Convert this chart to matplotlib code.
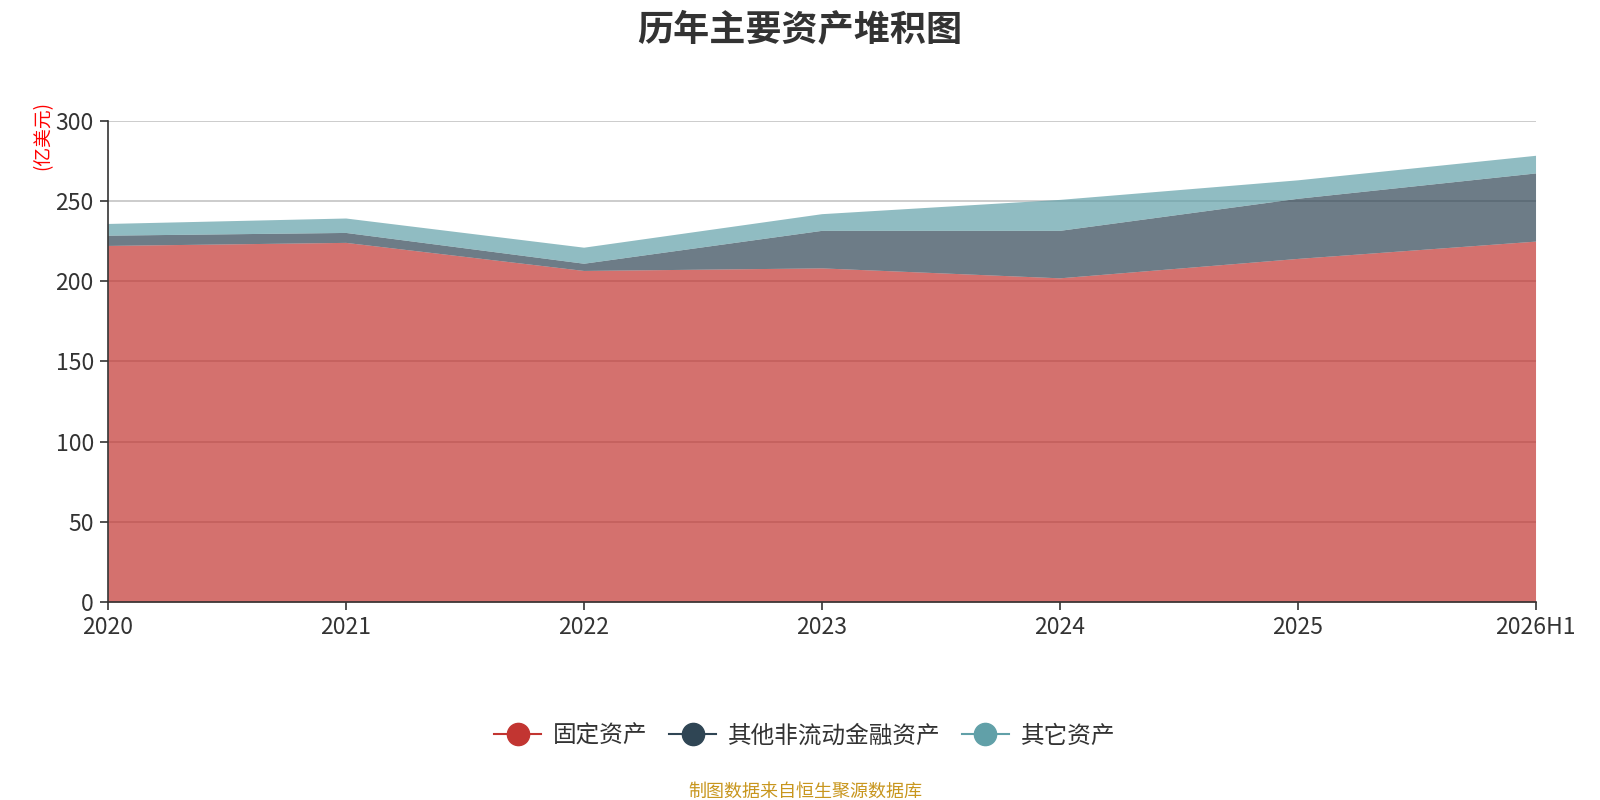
import matplotlib
matplotlib.use("Agg")
import matplotlib.pyplot as plt
from matplotlib.lines import Line2D
import numpy as np

plt.rcParams['font.family'] = ['Noto Sans CJK SC', 'DejaVu Sans']

# -------------------------------
#   ДАННЫЕ
# -------------------------------
years = ["2020", "2021", "2022", "2023", "2024", "2025", "2026H1"]
fixed_assets = [222.3, 224.2, 206.7, 208.3, 202.1, 214.2, 225.0]
other_fin_assets = [6.4, 6.2, 4.5, 23.4, 29.6, 37.5, 42.5]
other_assets = [7.3, 9.0, 10.0, 10.4, 19.3, 11.5, 11.0]

series_names = ["固定资产", "其他非流动金融资产", "其它资产"]
colors = ["#c23531", "#2f4554", "#61a0a8"]

fig = plt.figure(figsize=(16, 8), dpi=100)
ax = fig.add_axes([0.0673, 0.2475, 0.8924, 0.6015])

x = np.arange(len(years))
base = np.zeros(len(years))
for vals, c in zip([fixed_assets, other_fin_assets, other_assets], colors):
    top = base + np.array(vals)
    ax.fill_between(x, base, top, color=c, alpha=0.7, linewidth=0, zorder=2)
    base = top

ax.set_xlim(0, len(years) - 1)
ax.set_ylim(0, 300)
ax.set_yticks(range(0, 301, 50))
ax.set_xticks(x)
ax.set_xticklabels(years)
ax.grid(axis='y', color='#c4c4c4', linewidth=1.2, zorder=1)
ax.set_axisbelow(True)

for s in ['top', 'right']:
    ax.spines[s].set_visible(False)
for s in ['left', 'bottom']:
    ax.spines[s].set_color('#333333')
    ax.spines[s].set_linewidth(1.2)
ax.tick_params(axis='both', colors='#333333', labelsize=16.5, length=6, width=1.2)
ax.tick_params(axis='y', pad=4)
ax.tick_params(axis='x', pad=4)

fig.text(0.5, 0.963, "历年主要资产堆积图", ha='center', va='center',
         fontsize=26, fontweight='bold', color='#333333')
fig.text(0.027, 0.874, "(亿美元)", rotation=90, ha='center', va='top',
         fontsize=13.5, color='red')

handles = [Line2D([0], [0], color=c, marker='o', markersize=16, linewidth=1.5)
           for c in colors]
fig.legend(handles, series_names, loc='center', bbox_to_anchor=(0.503, 0.08),
           ncol=3, frameon=False, fontsize=17, handlelength=2.0,
           columnspacing=0.9, handletextpad=0.5, labelcolor='#333333')

fig.text(0.503, 0.011, "制图数据来自恒生聚源数据库", ha='center', va='center',
         fontsize=13, color='#c8961e')

fig.savefig("out.png", dpi=100)
